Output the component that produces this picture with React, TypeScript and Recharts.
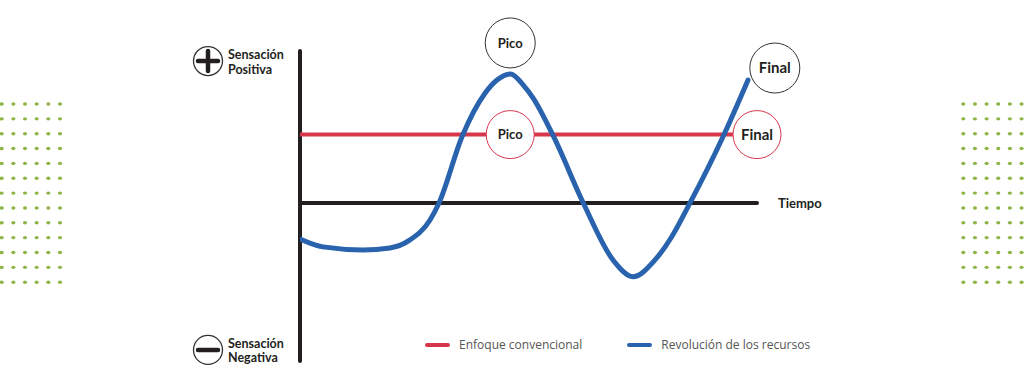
import {
  ComposedChart,
  Line,
  XAxis,
  YAxis,
  ReferenceLine,
  ReferenceDot,
  Legend,
} from "recharts";

// time runs 0..100 along the "Tiempo" axis, sensation runs -10.4..10
const RESOURCES_TIME = [0, 5.03, 13.79, 19.69, 24.07, 28.45, 30.42, 35.45, 40.48, 43.11, 46.06, 48.86, 51.05, 55.43, 61.99, 68.49, 72.87, 77.68, 81.34, 85.34, 92.56, 98.03];
const RESOURCES_VALUE = [-2.37, -2.89, -3.09, -2.96, -2.43, -1.12, 0, 4.36, 7.22, 8.09, 8.49, 7.76, 6.89, 4.41, 0, -3.75, -4.85, -3.75, -2.22, 0, 4.36, 8.09];

const CONVENTIONAL_TIME = [0, 100];
const CONVENTIONAL_VALUE = [4.5, 4.5];

// circled markers: [time, sensation, text]
const RESOURCES_MARKS: Array<[number, number, string]> = [
  [46, 10.53, "Pico"],
  [103.9, 8.88, "Final"],
];
const CONVENTIONAL_MARKS: Array<[number, number, string]> = [
  [46, 4.5, "Pico"],
  [100, 4.5, "Final"],
];

const SENSATION_TICKS = [9.34, -9.67];
const SENSATION_LABELS: Record<string, [string, string, string]> = {
  "9.34": ["+", "Sensación", "Positiva"],
  "-9.67": ["-", "Sensación", "Negativa"],
};

const RED = "#d7364b";
const BLUE = "#2962ad";
const INK = "#231f20";
const DOT_GREEN = "#8fb547";

const resourcesData = RESOURCES_TIME.map((t, i) => ({ t, v: RESOURCES_VALUE[i] }));
const conventionalData = CONVENTIONAL_TIME.map((t, i) => ({ t, v: CONVENTIONAL_VALUE[i] }));

const markLabel = (text: string) => ({
  value: text,
  position: "center" as const,
  fill: INK,
  fontFamily: "Lato",
  fontWeight: 700,
  fontSize: text === "Final" ? 15 : 13,
});

function SensationTick(props: any) {
  const { y, payload } = props;
  const entry = SENSATION_LABELS[String(payload.value)];
  if (!entry) return null;
  const [sign, line1, line2] = entry;
  const cx = 208;
  return (
    <g>
      <circle cx={cx} cy={y} r={14.5} fill="#fff" stroke="#333" strokeWidth={1.3} />
      <line x1={cx - 10} x2={cx + 10} y1={y} y2={y} stroke={INK} strokeWidth={4.5} strokeLinecap="round" />
      {sign === "+" && (
        <line x1={cx} x2={cx} y1={y - 10} y2={y + 10} stroke={INK} strokeWidth={4.5} strokeLinecap="round" />
      )}
      <text x={228} y={y - 2} fontFamily="Lato" fontWeight={700} fontSize={12.5} fill={INK}>
        {line1}
      </text>
      <text x={228} y={y + 12.5} fontFamily="Lato" fontWeight={700} fontSize={12.5} fill={INK}>
        {line2}
      </text>
    </g>
  );
}

function LegendContent(props: any) {
  const items = [...(props.payload ?? [])].sort((a: any, b: any) =>
    a.value === "Enfoque convencional" ? -1 : b.value === "Enfoque convencional" ? 1 : 0
  );
  return (
    <div style={{ display: "flex", alignItems: "center", fontFamily: "Open Sans", fontSize: 12, color: "#555" }}>
      {items.map((item: any) => (
        <div key={item.value} style={{ display: "flex", alignItems: "center", marginRight: 45 }}>
          <span style={{ display: "inline-block", width: 25, height: 4, borderRadius: 2, background: item.color, marginRight: 9 }} />
          <span>{item.value}</span>
        </div>
      ))}
    </div>
  );
}

function DotGrid({ left }: { left: number }) {
  const dots = [];
  for (let r = 0; r < 13; r++) {
    for (let c = 0; c < 6; c++) {
      dots.push(
        <ellipse key={`${r}-${c}`} cx={left + c * 11.65} cy={104 + r * 14.85} rx={2.1} ry={1.7} fill={DOT_GREEN} />
      );
    }
  }
  return <>{dots}</>;
}

export default function App() {
  return (
    <div style={{ position: "absolute", left: 0, top: 0, width: 1024, height: 387, background: "#fff" }}>
      <svg width={1024} height={387} style={{ position: "absolute", left: 0, top: 0 }}>
        <DotGrid left={1.7} />
        <DotGrid left={963.3} />
      </svg>
      <div style={{ position: "absolute", left: 0, top: 0 }}>
        <ComposedChart width={1024} height={387} margin={{ top: 51, right: 267, bottom: 26, left: 180 }}>
          <XAxis dataKey="t" type="number" domain={[0, 100]} hide allowDataOverflow />
          <YAxis
            type="number"
            domain={[-10.4, 10]}
            width={120}
            ticks={SENSATION_TICKS}
            axisLine={false}
            tickLine={false}
            tick={<SensationTick />}
            allowDataOverflow
          />
          <ReferenceLine x={0} stroke={INK} strokeWidth={4} strokeLinecap="round" />
          <ReferenceLine
            y={0}
            stroke={INK}
            strokeWidth={4}
            strokeLinecap="round"
            label={{ value: "Tiempo", position: "right", offset: 21, fill: INK, fontFamily: "Lato", fontWeight: 700, fontSize: 13 }}
          />
          <Line
            data={conventionalData}
            dataKey="v"
            name="Enfoque convencional"
            stroke={RED}
            strokeWidth={4}
            dot={false}
            activeDot={false}
            isAnimationActive={false}
          />
          {CONVENTIONAL_MARKS.map(([t, v, text]) => (
            <ReferenceDot key={`c-${text}`} x={t} y={v} r={24} fill="#fff" stroke={RED} strokeWidth={1} ifOverflow="visible" label={markLabel(text)} />
          ))}
          <Line
            data={resourcesData}
            dataKey="v"
            type="monotone"
            name="Revolución de los recursos"
            stroke={BLUE}
            strokeWidth={5}
            strokeLinecap="round"
            dot={false}
            activeDot={false}
            isAnimationActive={false}
          />
          {RESOURCES_MARKS.map(([t, v, text]) => (
            <ReferenceDot key={`r-${text}`} x={t} y={v} r={25} fill="#fff" stroke="#333" strokeWidth={1} ifOverflow="visible" label={markLabel(text)} />
          ))}
          <Legend
            layout="horizontal"
            verticalAlign="middle"
            content={<LegendContent />}
            wrapperStyle={{ left: 425, top: 336, width: 460, height: 18 }}
          />
        </ComposedChart>
      </div>
    </div>
  );
}
